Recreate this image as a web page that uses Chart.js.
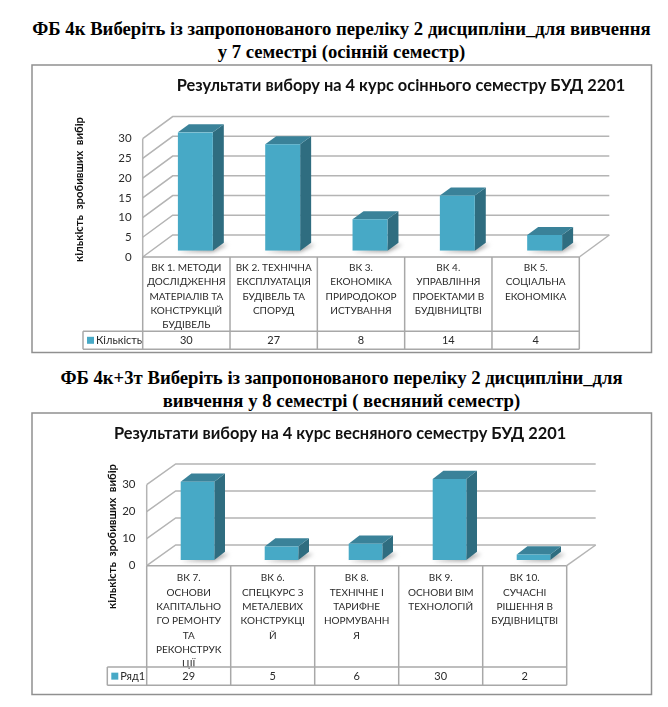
<!DOCTYPE html>
<html>
<head>
<meta charset="utf-8">
<script src="https://cdn.jsdelivr.net/npm/chart.js@4"></script>
<style>
  body { margin: 0; background: #fff; width: 668px; height: 707px; position: relative; overflow: hidden; }
  .heading {
    position: absolute; left: 0; width: 683px; text-align: center;
    font: bold 18.7px/22.5px "Liberation Serif", serif; color: #000; white-space: nowrap;
  }
  canvas { position: absolute; left: 31px; }
</style>
</head>
<body>
<div class="heading" style="top:18px">ФБ 4к Виберіть із запропонованого переліку 2 дисципліни_для вивчення<br>у 7 семестрі (осінній семестр)</div>
<div class="heading" style="top:367px">ФБ 4к+3т Виберіть із запропонованого переліку 2 дисципліни_для<br>вивчення у 8 семестрі ( весняний семестр)</div>
<canvas id="autumn" width="622" height="290" style="top:64px;width:622px;height:290px"></canvas>
<canvas id="spring" width="622" height="284" style="top:412px;width:622px;height:284px"></canvas>
<script>
const autumnCategories = [
  ['ВК 1. МЕТОДИ', 'ДОСЛІДЖЕННЯ', 'МАТЕРІАЛІВ ТА', 'КОНСТРУКЦІЙ', 'БУДІВЕЛЬ'],
  ['ВК 2. ТЕХНІЧНА', 'ЕКСПЛУАТАЦІЯ', 'БУДІВЕЛЬ ТА', 'СПОРУД'],
  ['ВК 3.', 'ЕКОНОМІКА', 'ПРИРОДОКОР', 'ИСТУВАННЯ'],
  ['ВК 4.', 'УПРАВЛІННЯ', 'ПРОЕКТАМИ В', 'БУДІВНИЦТВІ'],
  ['ВК 5.', 'СОЦІАЛЬНА', 'ЕКОНОМІКА']
];
const autumnValues = [30, 27, 8, 14, 4];
const autumnTitle = 'Результати вибору на 4 курс осіннього семестру БУД 2201';
const autumnSeries = 'Кількість';

const springCategories = [
  ['ВК 7.', 'ОСНОВИ', 'КАПІТАЛЬНО', 'ГО РЕМОНТУ', 'ТА', 'РЕКОНСТРУК', 'ЦІЇ'],
  ['ВК 6.', 'СПЕЦКУРС З', 'МЕТАЛЕВИХ', 'КОНСТРУКЦІ', 'Й'],
  ['ВК 8.', 'ТЕХНІЧНЕ І', 'ТАРИФНЕ', 'НОРМУВАНН', 'Я'],
  ['ВК 9.', 'ОСНОВИ ВІМ', 'ТЕХНОЛОГІЙ'],
  ['ВК 10.', 'СУЧАСНІ', 'РІШЕННЯ В', 'БУДІВНИЦТВІ']
];
const springValues = [29, 5, 6, 30, 2];
const springTitle = 'Результати вибору на 4 курс весняного семестру БУД 2201';
const springSeries = 'Ряд1';

const axisTitle = 'кількість  зробивших  вибір';

const FONT = 'Lato, "Open Sans", sans-serif';
const LINE = '#a8a8a8';
const FRONT = '#47a9c6';
const SIDE = '#2f6d80';
const TOP = '#3a8299';

function line(ctx, points) {
  ctx.beginPath();
  points.forEach((p, i) => i ? ctx.lineTo(p[0], p[1]) : ctx.moveTo(p[0], p[1]));
  ctx.stroke();
}

function poly(ctx, points, color) {
  ctx.fillStyle = color;
  ctx.beginPath();
  points.forEach((p, i) => i ? ctx.lineTo(p[0], p[1]) : ctx.moveTo(p[0], p[1]));
  ctx.closePath();
  ctx.fill();
}

function makeChart(id, categories, values, title, series, g) {
  // draws the fake 3D box, the data table and the side faces of the bars
  const box3d = {
    id: 'box3d',
    afterLayout(chart) {
      chart.titleBlock.left += g.titleShift;
      chart.titleBlock.right += g.titleShift;
    },
    beforeDatasetsDraw(chart) {
      const ctx = chart.ctx;
      const x = chart.scales.x;
      const y = chart.scales.y;
      const area = chart.chartArea;
      const frontL = area.left + g.front[0];
      const frontR = area.right + g.front[0];
      const frontB = area.bottom + g.front[1];
      const wallL = area.left + g.wall[0];
      const wallR = area.right + g.wall[0];

      ctx.save();
      ctx.strokeStyle = '#909090';
      ctx.lineWidth = 1.5;
      ctx.strokeRect(1, 1, chart.width - 2.5, chart.height - 2.5);

      // walls and floor
      ctx.strokeStyle = '#b4b4b4';
      y.ticks.forEach((t, i) => {
        const py = y.getPixelForTick(i);
        line(ctx, [[frontL, py + g.front[1]], [wallL, py + g.wall[1]], [wallR, py + g.wall[1]]]);
      });
      line(ctx, [[wallR, area.bottom + g.wall[1]], [frontR, frontB]]);
      line(ctx, [[frontL, y.getPixelForValue(y.max) + g.front[1]], [frontL, frontB]]);

      // shadows on the floor
      const bars = chart.getDatasetMeta(0).data;
      ctx.filter = 'blur(2px)';
      bars.forEach(b => {
        const r = b.x + b.width / 2;
        poly(ctx, [[b.x - b.width / 2, b.base + 1], [r, b.base + 1], [r + 15, b.base - 6], [r + 8, b.base - 6]], '#9a9a9a');
      });
      ctx.filter = 'none';

      // side and top of the bars
      bars.forEach(b => {
        const l = b.x - b.width / 2;
        const r = b.x + b.width / 2;
        const dx = g.depth[0];
        const dy = g.depth[1];
        poly(ctx, [[r, b.y], [r + dx, b.y - dy], [r + dx, b.base - dy], [r, b.base]], SIDE);
        poly(ctx, [[l, b.y], [l + dx, b.y - dy], [r + dx, b.y - dy], [r, b.y]], TOP);
      });

      // data table
      ctx.strokeStyle = LINE;
      const step = (frontR - frontL) / categories.length;
      const rowT = g.rowTop;
      const rowB = g.rowBottom;
      line(ctx, [[frontL, frontB], [frontR, frontB]]);
      line(ctx, [[g.keyLeft, rowT], [frontR, rowT]]);
      line(ctx, [[g.keyLeft, rowB], [frontR, rowB]]);
      line(ctx, [[g.keyLeft, rowT], [g.keyLeft, rowB]]);
      categories.forEach((c, i) => line(ctx, [[frontL + step * i, frontB], [frontL + step * i, rowB]]));
      line(ctx, [[frontR, frontB], [frontR, rowB]]);

      ctx.textBaseline = 'middle';
      ctx.fillStyle = '#2a2a2a';
      ctx.font = '11px ' + FONT;
      ctx.textAlign = 'center';
      values.forEach((v, i) => ctx.fillText(v, x.getPixelForTick(i) + g.front[0], (rowT + rowB) / 2));
      ctx.textAlign = 'left';
      ctx.fillText(series, g.keyLeft + 13, (rowT + rowB) / 2);
      poly(ctx, [[g.keyLeft + 4, (rowT + rowB) / 2 - 3.5], [g.keyLeft + 11, (rowT + rowB) / 2 - 3.5],
        [g.keyLeft + 11, (rowT + rowB) / 2 + 3.5], [g.keyLeft + 4, (rowT + rowB) / 2 + 3.5]], FRONT);

      // y axis title sits off centre, so it is not the scale's own title
      ctx.fillStyle = '#111';
      ctx.font = 'bold 11.3px ' + FONT;
      ctx.textAlign = 'center';
      ctx.translate(g.axisTitle[0], g.axisTitle[1]);
      ctx.rotate(-Math.PI / 2);
      ctx.fillText(axisTitle, 0, 0);
      ctx.restore();
    }
  };

  return new Chart(document.getElementById(id), {
    type: 'bar',
    data: {
      labels: categories,
      datasets: [{
        label: series,
        data: values,
        backgroundColor: FRONT,
        barPercentage: 0.4,
        categoryPercentage: 1
      }]
    },
    options: {
      responsive: false,
      animation: false,
      layout: { padding: { left: 0, top: 0, bottom: 0, right: g.padRight } },
      plugins: {
        legend: { display: false },
        tooltip: { enabled: false },
        title: {
          display: true,
          text: title,
          color: '#111',
          font: { family: FONT, size: 16.4, weight: 'bold', lineHeight: 20.4 / 16.4 },
          padding: { top: g.titleTop, bottom: g.titleBottom }
        }
      },
      scales: {
        x: {
          grid: { display: false },
          border: { display: false },
          afterFit(s) { s.height = g.xHeight; },
          ticks: {
            autoSkip: false,
            maxRotation: 0,
            minRotation: 0,
            padding: g.xPad,
            labelOffset: g.front[0],
            color: '#2a2a2a',
            font: { family: FONT, size: 10, lineHeight: 1.43 }
          }
        },
        y: {
          min: 0,
          max: 30,
          grid: { display: false, drawTicks: false },
          border: { display: false },
          afterFit(s) { s.width = g.yWidth; },
          ticks: {
            stepSize: g.yStep,
            padding: g.yPad,
            labelOffset: g.front[1],
            color: '#2a2a2a',
            font: { family: FONT, size: 11.5 }
          }
        }
      }
    },
    plugins: [box3d]
  });
}

makeChart('autumn', autumnCategories, autumnValues, autumnTitle, autumnSeries, {
  titleShift: 91.4, titleTop: 11.8, titleBottom: 36.1,
  padRight: 64.7, xHeight: 103.3, yWidth: 120.7, xPad: 2, yPad: 20, yStep: 5,
  front: [-9, 6.3], wall: [21, -15.7], depth: [11, 8],
  rowTop: 267.3, rowBottom: 285.3, keyLeft: 52, axisTitle: [48, 125.5]
});

makeChart('spring', springCategories, springValues, springTitle, springSeries, {
  titleShift: 36.8, titleTop: 11.1, titleBottom: 35.5,
  padRight: 77.5, xHeight: 136, yWidth: 124.5, xPad: 3, yPad: 20, yStep: 10,
  front: [-8.8, 5.7], wall: [20.2, -15], depth: [10.7, 8.3],
  rowTop: 255, rowBottom: 273.3, keyLeft: 76.3, axisTitle: [81, 124.5]
});
</script>
</body>
</html>
